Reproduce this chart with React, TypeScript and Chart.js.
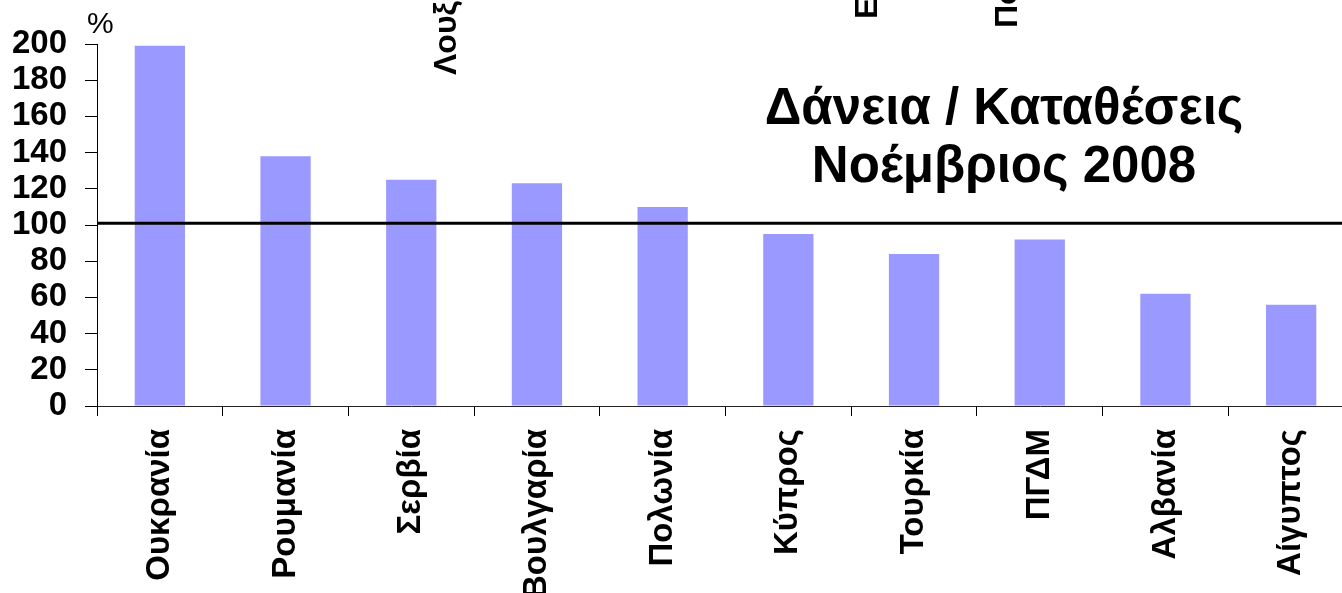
import React, { useEffect, useRef } from "react";
import { Chart, registerables } from "chart.js";

Chart.register(...registerables);

// Loan-to-deposit ratio by country, November 2008 (%)
const categories = [
  "Ουκρανία",
  "Ρουμανία",
  "Σερβία",
  "Βουλγαρία",
  "Πολωνία",
  "Κύπρος",
  "Τουρκία",
  "ΠΓΔΜ",
  "Αλβανία",
  "Αίγυπτος",
];
const loanDepositRatio = [199, 138, 125, 123, 110, 95, 84, 92, 62, 56];
const yTickValues = [0, 20, 40, 60, 80, 100, 120, 140, 160, 180, 200];
const referenceLevel = 101;
const titleLines = ["Δάνεια / Καταθέσεις", "Νοέμβριος 2008"];
const unitLabel = "%";
// Labels of neighbouring panels that run off the top edge
const overflowLabels = ["Λουξεμβούργο", "Ε", "Πορτογαλία"];

const FONT = "'Liberation Sans', Arial, Helvetica, sans-serif";

const decorations = {
  id: "decorations",
  afterDatasetsDraw(chart: any) {
    const { ctx, chartArea, scales } = chart;
    const y = scales.y.getPixelForValue(referenceLevel);
    ctx.save();
    ctx.strokeStyle = "#000";
    ctx.lineWidth = 3;
    ctx.beginPath();
    ctx.moveTo(chartArea.left, y);
    ctx.lineTo(chartArea.right, y);
    ctx.stroke();
    ctx.restore();
  },
  afterDraw(chart: any) {
    const { ctx } = chart;
    ctx.save();
    ctx.fillStyle = "#000";

    // chart title
    ctx.font = `bold 51px ${FONT}`;
    ctx.textAlign = "center";
    ctx.textBaseline = "alphabetic";
    ctx.fillText(titleLines[0], 1004, 124);
    ctx.fillText(titleLines[1], 1004, 182);

    // unit above the value axis
    ctx.font = `30px ${FONT}`;
    ctx.textAlign = "left";
    ctx.fillText(unitLabel, 87, 33);

    // vertical labels cut by the top edge
    ctx.font = `bold 32px ${FONT}`;
    const anchors = [
      [456, 75],
      [877, 19],
      [1017, 28],
    ];
    overflowLabels.forEach((t, i) => {
      ctx.save();
      ctx.translate(anchors[i][0], anchors[i][1]);
      ctx.rotate(-Math.PI / 2);
      ctx.textAlign = "left";
      ctx.fillText(t, 0, 0);
      ctx.restore();
    });
    ctx.restore();
  },
};

export default function App() {
  const canvasRef = useRef<HTMLCanvasElement | null>(null);

  useEffect(() => {
    if (!canvasRef.current) return;
    const chart = new Chart(canvasRef.current, {
      type: "bar",
      data: {
        labels: categories,
        datasets: [
          {
            data: loanDepositRatio,
            backgroundColor: "#9999FF",
            borderWidth: 0,
            barPercentage: 0.4,
            categoryPercentage: 1,
          },
        ],
      },
      options: {
        responsive: false,
        animation: false,
        devicePixelRatio: 1,
        layout: { padding: { top: 44, left: 0, right: 0, bottom: 0 } },
        plugins: {
          legend: { display: false },
          title: { display: false },
          tooltip: { enabled: false },
        },
        scales: {
          x: {
            type: "category",
            offset: true,
            grid: {
              display: true,
              offset: true,
              drawOnChartArea: false,
              drawTicks: true,
              tickLength: 10,
              color: "#000",
            },
            border: { display: true, color: "#222", width: 1 },
            ticks: {
              autoSkip: false,
              maxRotation: 90,
              minRotation: 90,
              padding: 13,
              color: "#000",
              font: { family: FONT, size: 33, weight: "bold" },
            },
            afterFit(scale: any) {
              scale.height = 187;
            },
          },
          y: {
            min: 0,
            max: 200,
            afterBuildTicks(scale: any) {
              scale.ticks = yTickValues.map((v) => ({ value: v }));
            },
            grid: {
              display: true,
              drawOnChartArea: false,
              drawTicks: true,
              tickLength: 12,
              color: "#000",
            },
            border: { display: true, color: "#000", width: 1 },
            ticks: {
              autoSkip: false,
              padding: 18,
              color: "#000",
              font: { family: FONT, size: 33, weight: "bold" },
            },
            afterFit(scale: any) {
              scale.width = 97;
            },
          },
        },
      },
      plugins: [decorations],
    });
    return () => chart.destroy();
  }, []);

  return (
    <div
      style={{
        position: "fixed",
        left: 0,
        top: 0,
        width: 1342,
        height: 593,
        overflow: "hidden",
        background: "#fff",
      }}
    >
      <canvas
        ref={canvasRef}
        width={1354}
        height={593}
        style={{ display: "block", width: 1354, height: 593 }}
      />
    </div>
  );
}
